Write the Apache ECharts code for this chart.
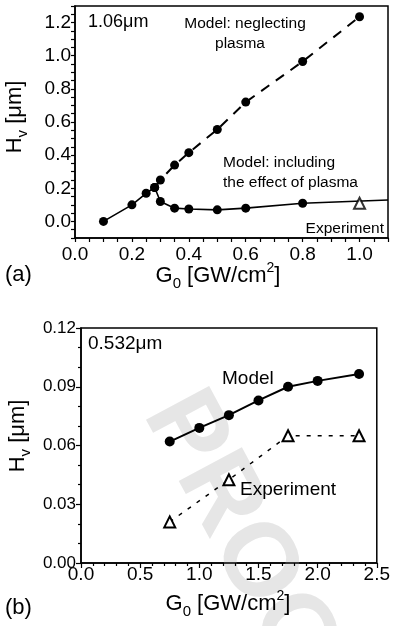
<!DOCTYPE html>
<html>
<head>
<meta charset="utf-8">
<script src="https://cdn.jsdelivr.net/npm/echarts@6/dist/echarts.min.js"></script>
<style>
  html, body { margin: 0; padding: 0; background: #fff; }
  #chart { width: 393px; height: 626px; }
</style>
</head>
<body>
<div id="chart"></div>
<script>
// ---- Panel (a): 1.06 µm ----
const gNoPlasma = [0.28, 0.3, 0.35, 0.4, 0.5, 0.6, 0.8, 1.0];
const hNoPlasma = [0.205, 0.25, 0.34, 0.415, 0.555, 0.72, 0.965, 1.235];
const gPlasma = [0.1, 0.2, 0.25, 0.28, 0.3, 0.35, 0.4, 0.5, 0.6, 0.8, 1.1];
const hPlasma = [0.0, 0.1, 0.17, 0.205, 0.12, 0.08, 0.075, 0.07, 0.08, 0.11, 0.129];
const gExpA = [1.0];
const hExpA = [0.11];
const xTicksA = [0.0, 0.2, 0.4, 0.6, 0.8, 1.0];
const yTicksA = [0.0, 0.2, 0.4, 0.6, 0.8, 1.0, 1.2];

// ---- Panel (b): 0.532 µm ----
const gModelB = [0.75, 1.0, 1.25, 1.5, 1.75, 2.0, 2.35];
const hModelB = [0.062, 0.069, 0.0755, 0.083, 0.09, 0.093, 0.0965];
const gExpB = [0.75, 1.25, 1.75, 2.35];
const hExpB = [0.021, 0.0425, 0.065, 0.065];
const xTicksB = [0.0, 0.5, 1.0, 1.5, 2.0, 2.5];
const yTicksB = [0.0, 0.03, 0.06, 0.09, 0.12];

const FONT = '"Liberation Sans", Arial, Helvetica, sans-serif';
const zip = (xs, ys) => xs.map((x, i) => [x, ys[i]]);
const inList = (list, v) => list.some(t => Math.abs(t - v) < 1e-6);

function frameAxis(extra) {
  return Object.assign({
    type: 'value',
    splitLine: { show: false },
    axisLine: { show: true, onZero: false, lineStyle: { color: '#000', width: 1.5 } },
    axisTick: { show: true, inside: false, length: 4, lineStyle: { color: '#000', width: 1.2 } }
  }, extra);
}

const chart = echarts.init(document.getElementById('chart'), null, { renderer: 'canvas' });

const titleRich = {
  sub: { fontSize: 15, lineHeight: 13, verticalAlign: 'bottom', fontFamily: FONT, color: '#000' },
  sup: { fontSize: 14, lineHeight: 18, verticalAlign: 'top', fontFamily: FONT, color: '#000' }
};

function label(text, x, y, size, align, extra) {
  return Object.assign({
    type: 'text', x: x, y: y, z: 10,
    style: {
      text: text, fill: '#000', font: size + 'px ' + FONT,
      align: align, verticalAlign: 'middle', textAlign: align, textVerticalAlign: 'middle'
    }
  }, extra || {});
}

function richTitle(text, x, y, rotation) {
  return {
    type: 'text', x: x, y: y, rotation: rotation || 0, z: 10,
    style: {
      text: text, fill: '#000', font: '22px ' + FONT, lineHeight: 30,
      align: 'center', verticalAlign: 'middle', textAlign: 'center', textVerticalAlign: 'middle',
      rich: titleRich
    }
  };
}

const option = {
  backgroundColor: '#fff',
  animation: false,
  grid: [
    { left: 75, top: 6, width: 313, height: 232, show: true, borderColor: '#000', borderWidth: 1.5, containLabel: false },
    { left: 81, top: 328, width: 297, height: 235, show: true, borderColor: '#000', borderWidth: 1.5, containLabel: false }
  ],
  xAxis: [
    frameAxis({
      gridIndex: 0, min: 0, max: 1.1, interval: 0.05,
      axisLabel: {
        margin: 7, color: '#000', fontSize: 19, fontFamily: FONT,
        formatter: v => inList(xTicksA, v) ? v.toFixed(1) : ''
      }
    }),
    frameAxis({
      gridIndex: 1, min: 0, max: 2.5, interval: 0.5,
      axisTick: { show: true, inside: false, length: 5, lineStyle: { color: '#000', width: 1.2 } },
      minorTick: { show: true, splitNumber: 5, length: 3, lineStyle: { color: '#000', width: 1.2 } },
      axisLabel: {
        margin: 2, color: '#000', fontSize: 19, fontFamily: FONT,
        formatter: v => inList(xTicksB, v) ? v.toFixed(1) : ''
      }
    })
  ],
  yAxis: [
    frameAxis({
      gridIndex: 0, min: -0.1, max: 1.3, interval: 0.05,
      axisLabel: {
        margin: 4, color: '#000', fontSize: 19, fontFamily: FONT,
        formatter: v => inList(yTicksA, v) ? v.toFixed(1) : ''
      }
    }),
    frameAxis({
      gridIndex: 1, min: 0, max: 0.12, interval: 0.03,
      axisTick: { show: true, inside: false, length: 5, lineStyle: { color: '#000', width: 1.2 } },
      minorTick: { show: true, splitNumber: 3, length: 3, lineStyle: { color: '#000', width: 1.2 } },
      axisLabel: {
        margin: 5, color: '#000', fontSize: 17, fontFamily: FONT,
        formatter: v => inList(yTicksB, v) ? v.toFixed(2) : ''
      }
    })
  ],
  graphic: [
    // background stamp across the lower panel
    {
      type: 'text', x: 168, y: 400, rotation: -1.08, z: 0, silent: true,
      style: {
        text: 'PROOF', fill: '#e6e6e6', font: 'bold 104px ' + FONT,
        align: 'left', verticalAlign: 'middle', textAlign: 'left', textVerticalAlign: 'middle'
      }
    },
    // panel (a) annotations
    label('1.06\u03bcm', 88, 22, 18, 'left'),
    label('Model: neglecting', 245, 24, 15.5, 'center'),
    label('plasma', 240, 44, 15.5, 'center'),
    label('Model: including', 223, 163, 15.5, 'left'),
    label('the effect of plasma', 223, 183, 15.5, 'left'),
    label('Experiment', 384, 229, 15.5, 'right'),
    label('(a)', 5, 275, 22, 'left'),
    richTitle('G{sub|0} [GW/cm{sup|2}]', 218, 276, 0),
    richTitle('H{sub|v} [\u03bcm]', 15, 117, Math.PI / 2),
    // panel (b) annotations
    label('0.532\u03bcm', 88, 344, 19, 'left'),
    label('Model', 222, 379, 19, 'left'),
    label('Experiment', 240, 490, 19, 'left'),
    label('(b)', 5, 608, 22, 'left'),
    richTitle('G{sub|0} [GW/cm{sup|2}]', 228, 604, 0),
    richTitle('H{sub|v} [\u03bcm]', 18, 436, Math.PI / 2)
  ],
  series: [
    {
      name: 'Model: neglecting plasma', type: 'line', xAxisIndex: 0, yAxisIndex: 0,
      data: zip(gNoPlasma, hNoPlasma),
      symbol: 'circle', symbolSize: 9,
      itemStyle: { color: '#000' },
      lineStyle: { color: '#000', width: 2, type: [10, 8] },
      z: 3
    },
    {
      name: 'Model: including the effect of plasma', type: 'line', xAxisIndex: 0, yAxisIndex: 0,
      data: zip(gPlasma, hPlasma).map((p, i, arr) =>
        i === arr.length - 1 ? { value: p, symbol: 'none' } : p),
      symbol: 'circle', symbolSize: 9,
      itemStyle: { color: '#000' },
      lineStyle: { color: '#000', width: 1.6 },
      z: 3
    },
    {
      name: 'Experiment 1.06', type: 'scatter', xAxisIndex: 0, yAxisIndex: 0,
      data: zip(gExpA, hExpA),
      symbol: 'triangle', symbolSize: 11,
      itemStyle: { color: '#fff', borderColor: '#000', borderWidth: 2 },
      z: 4
    },
    {
      name: 'Model 0.532', type: 'line', xAxisIndex: 1, yAxisIndex: 1,
      data: zip(gModelB, hModelB),
      symbol: 'circle', symbolSize: 10,
      itemStyle: { color: '#000' },
      lineStyle: { color: '#000', width: 2 },
      z: 3
    },
    {
      name: 'Experiment 0.532', type: 'line', xAxisIndex: 1, yAxisIndex: 1,
      data: zip(gExpB, hExpB),
      symbol: 'triangle', symbolSize: 11,
      itemStyle: { color: '#fff', borderColor: '#000', borderWidth: 2 },
      lineStyle: { color: '#000', width: 1.5, type: [4, 7] },
      z: 3
    }
  ]
};

chart.setOption(option);
</script>
</body>
</html>
